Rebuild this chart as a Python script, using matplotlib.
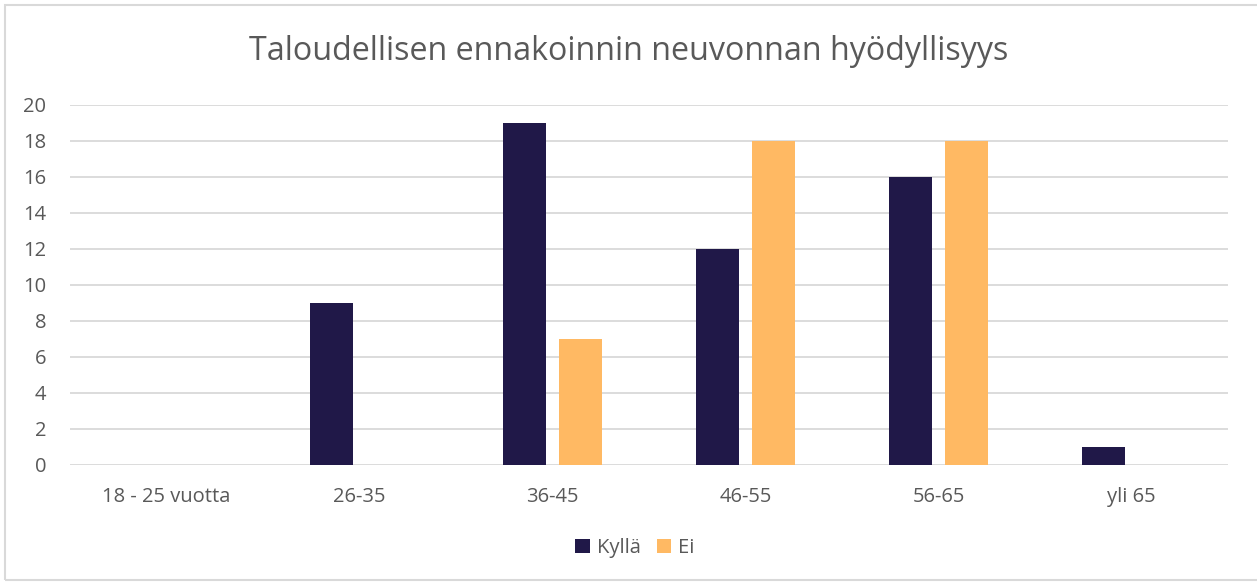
import numpy as np
import matplotlib.pyplot as plt
from matplotlib.patches import Rectangle

categories = ['18 - 25 vuotta', '26-35', '36-45', '46-55', '56-65', 'yli 65']
kylla = [0, 9, 19, 12, 16, 1]
ei = [0, 0, 7, 18, 18, 0]
series_names = ['Kyllä', 'Ei']
colors = ['#201848', '#FFB963']
title = 'Taloudellisen ennakoinnin neuvonnan hyödyllisyys'

plt.rcParams['font.family'] = ['Open Sans', 'DejaVu Sans']
text_color = '#595959'

fig = plt.figure(figsize=(12.57, 5.85), dpi=100)
ax = fig.add_axes([70 / 1257, 1 - 465 / 585, (1228 - 70) / 1257, (465 - 105) / 585])

# outer chart border
fig.patches.append(Rectangle((5 / 1257, 5 / 585), 1.0, 575 / 585, transform=fig.transFigure,
                             fill=False, edgecolor='#d9d9d9', linewidth=1.5))

x = np.arange(len(categories))
w = 0.223
off = 0.145
ax.bar(x - off, kylla, w, color=colors[0], label=series_names[0], zorder=3)
ax.bar(x + off, ei, w, color=colors[1], label=series_names[1], zorder=3)

ax.set_xlim(-0.5, len(categories) - 0.5)
ax.set_ylim(0, 20)
ax.set_yticks(range(0, 21, 2))
ax.set_xticks(x)
ax.set_xticklabels(categories)
ax.grid(axis='y', color='#d9d9d9', linewidth=1.3, zorder=0)
for s in ax.spines.values():
    s.set_visible(False)
ax.tick_params(length=0, labelsize=14.5, colors=text_color)
ax.tick_params(axis='x', pad=16)
ax.tick_params(axis='y', pad=17)

fig.text(0.5, 1 - 51 / 585, title, ha='center', va='center', fontsize=23.2, color=text_color)

fig.legend(loc='center', bbox_to_anchor=(0.505, 1 - 548 / 585), ncol=2, frameon=False,
           fontsize=14.5, labelcolor=text_color, handlelength=0.7, handleheight=0.7,
           handletextpad=0.35, columnspacing=0.8)

fig.savefig('out.png', dpi=100)
